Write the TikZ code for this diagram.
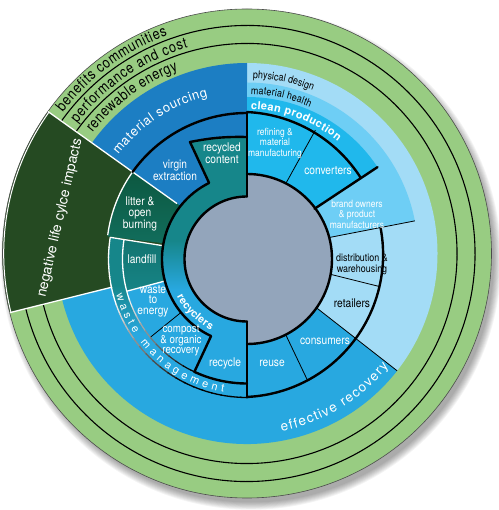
\documentclass[tikz,border=0pt]{standalone}
\usepackage{fontspec}
\setmainfont{TeX Gyre Heros}
\newfontfamily\condf{TeX Gyre Heros}[FakeStretch=0.85]
\usetikzlibrary{decorations.text}
\definecolor{grn}{RGB}{152,204,130}
\definecolor{dkg}{RGB}{37,74,34}
\definecolor{msb}{RGB}{28,126,195}
\definecolor{erb}{RGB}{40,168,224}
\definecolor{cyn}{RGB}{32,184,236}
\definecolor{mhb}{RGB}{110,206,245}
\definecolor{pdb}{RGB}{163,220,246}
\definecolor{tel}{RGB}{22,134,138}
\definecolor{gry}{RGB}{147,165,187}
\definecolor{lita}{RGB}{12,88,64}
\definecolor{litb}{RGB}{18,112,96}
\definecolor{lfa}{RGB}{18,116,112}
\definecolor{lfb}{RGB}{22,132,134}
\pgfdeclareverticalshading{ringshade}{100bp}{color(0bp)=(erb); color(44bp)=(erb); color(54bp)=(tel); color(100bp)=(tel)}
\pgfdeclareverticalshading{bandshade}{100bp}{color(0bp)=(erb); color(45bp)=(erb); color(60bp)=(tel); color(100bp)=(tel)}
\newcommand\fsz[1]{\fontsize{#1}{#1}\selectfont}
\begin{document}
\begin{tikzpicture}[x=1pt,y=1pt,
  thk/.style={line width=2.4pt, line cap=round, line join=round},
  thn/.style={line width=0.8pt},
  wl/.style={white, line width=1.3pt},
  lbl/.style={font=\condf\fontsize{12}{10.5}\selectfont, text=white, align=center, inner sep=0pt},
  sml/.style={font=\condf\fontsize{10}{10.5}\selectfont, text=white, align=center, inner sep=0pt},
  neg/.style={font=\fontsize{14}{14}\selectfont, text=white, inner sep=0pt, rotate=77}]
\useasboundingbox (-247,-256.5) rectangle (251,253.5);
% shadow
\foreach \k in {0,...,8} \fill[black, opacity=0.045] (4,-6) circle ({243+\k*0.9});
% outer rings and sectors
\fill[grn] (0,0) circle (244.5);
\fill[dkg] (0,0) -- (144.5:244.5) arc[start angle=144.5, end angle=194, radius=244.5] -- cycle;
\fill[pdb] (0,0) -- (-38:190.5) arc[start angle=-38, end angle=90, radius=190.5] -- cycle;
\fill[msb] (0,0) -- (90:190.5) arc[start angle=90, end angle=144.5, radius=190.5] -- cycle;
\fill[erb] (0,0) -- (194:190.5) arc[start angle=194, end angle=322, radius=190.5] -- cycle;
\fill[mhb] (0,0) -- (11:171) arc[start angle=11, end angle=90, radius=171] -- cycle;
\fill[cyn] (0,0) -- (33.5:156.5) arc[start angle=33.5, end angle=90, radius=156.5] -- cycle;
\shade[top color=lita, bottom color=litb] (0,0) -- (144.5:140.5) arc[start angle=144.5, end angle=173, radius=140.5] -- cycle;
\begin{scope}[shift={(0,-5.5)}]
  \coordinate (Oi) at (0,0);
  \coordinate (rcB) at (116.5:85);
  \coordinate (rcp2) at (245:124.5);
  \coordinate (gB) at (270:62.5);
  \coordinate (gT) at (90:62.5);
  \coordinate (gTR) at (90:85);
  \coordinate (bandB) at (270:138.5);
  \shade[top color=lfa, bottom color=lfb] (0,0) -- (171:124.5) arc[start angle=171, end angle=195, radius=124.5] -- cycle;
  \shade[shading=bandshade] (171:138.5) arc[start angle=171, end angle=270, radius=138.5] -- (270:124.5) arc[start angle=270, end angle=171, radius=124.5] -- cycle;
  \draw[thn] (219:85) -- (219:124.5);
\end{scope}
% thin radial lines
\draw[thn] (61:75) -- (61:141);
\draw[thn] (11:75) -- (11:171);
\draw[thn] (-14:75) -- (-14:137);
\draw[thn] (-38:75) -- (-38:190.5);
\draw[thn] (-64.5:75) -- (-64.5:140);
% recyclers ring, recycled content, recycle
\coordinate (rcT) at (0,116.5);
\coordinate (rcL) at (-57,111.5);
\shade[shading=ringshade] (rcT) to[bend right=6] (rcL) -- (rcB) arc[start angle=116.5, end angle=245, radius=85] -- (rcp2) arc[start angle=245, end angle=270, radius=124.5] -- (gB) arc[start angle=270, end angle=90, radius=62.5] -- cycle;
\fill[gry] (gTR) arc[start angle=90, end angle=-90, radius=85] -- (gB) arc[start angle=270, end angle=90, radius=62.5] -- cycle;
% green ring lines
\draw[line width=1.1pt] (194:228) arc[start angle=194, end angle=504.5, radius=228];
\draw[line width=1.1pt] (194:210) arc[start angle=194, end angle=504.5, radius=210];
\draw[line width=0.6pt, black!70] (0,0) circle (244.5);
\draw[white, line width=1pt] (144.5:243.3) arc[start angle=144.5, end angle=194, radius=243.3];
% white lines
\draw[wl] (144.5:244.5) -- (144.5:86);
\draw[wl] (144.5:140.5) arc[start angle=144.5, end angle=172.5, radius=140.5];
\draw[wl] (194:139) -- (194:244.5);
\begin{scope}[shift={(0,-5.5)}]
  \draw[wl] (171:85) -- (171:138.5);
  \draw[wl] (195:85) -- (195:124.5);
  \draw[wl] (171:124.5) arc[start angle=171, end angle=195, radius=124.5];
  \foreach \a in {171,175,...,267} {
    \pgfmathsetmacro\p{max(0,min(100,100-(\a-195)*2.2))}
    \draw[line width=1.3pt, white!\p!black] (\a:138.5) arc[start angle=\a, end angle={min(\a+4.5,270)}, radius=138.5];
  }
  \foreach \a in {195,199,...,243} {
    \pgfmathsetmacro\p{max(0,min(100,100-(\a-195)*2.2))}
    \draw[line width=1.2pt, white!\p!black] (\a:124.5) arc[start angle=\a, end angle={min(\a+4.5,245)}, radius=124.5];
  }
\end{scope}
% thick outlines
\draw[thk] (rcT) to[bend right=6] (rcL) -- (rcB) arc[start angle=116.5, end angle=245, radius=85] -- (rcp2) arc[start angle=245, end angle=270, radius=124.5];
\draw[thk] (gTR) arc[start angle=90, end angle=-90, radius=85];
\draw[thk] (gB) arc[start angle=270, end angle=90, radius=62.5];
\draw[thk] (0,140.5) -- (gT);
\draw[thk] (gB) -- (bandB);
\draw[thk] (90:140.5) arc[start angle=90, end angle=144.5, radius=140.5];
\begin{scope}[shift={(-6.5,-1)}]
  \draw[thk] (87.4:142.6) arc[start angle=87.4, end angle=32.4, radius=142.6];
  \draw[thk] (10.9:142.6) arc[start angle=10.9, end angle=-87.4, radius=142.6];
\end{scope}
\draw[thk] (33.5:81) -- (33.5:156.5);
% arc texts
\path[decorate, decoration={text along path, text align={fit to path}, text={|\condf\fsz{15}|benefits communities}}] (142.5:232) arc[start angle=142.5, end angle=110, radius=232];
\path[decorate, decoration={text along path, text align={fit to path}, text={|\condf\fsz{15}|performance and cost}}] (142.5:214) arc[start angle=142.5, end angle=106, radius=214];
\path[decorate, decoration={text along path, text align={fit to path}, text={|\condf\fsz{15}|renewable energy}}] (142:196) arc[start angle=142, end angle=110.5, radius=196];
\path[decorate, decoration={text along path, text align={fit to path}, text color=white, text={|\fsz{13}|material sourcing}}] (142.5:162) arc[start angle=142.5, end angle=104, radius=162];
\path[decorate, decoration={text along path, text align={fit to path}, text color=white, text={|\bfseries\fsz{11}|clean production}}] (88.5:144.5) arc[start angle=88.5, end angle=51, radius=144.5];
\path[decorate, decoration={text along path, text align={fit to path}, text={|\condf\fsz{10.5}|material health}}] (88.6:159.5) arc[start angle=88.6, end angle=66.7, radius=159.5];
\path[decorate, decoration={text along path, text align={fit to path}, text={|\condf\fsz{10.5}|physical design}}] (88.1:175.5) arc[start angle=88.1, end angle=68, radius=175.5];
\path[decorate, decoration={text along path, text align={fit to path}, text color=white, text={|\fsz{13.5}|effective recovery}}] (-79:181) arc[start angle=-79, end angle=-38.5, radius=181];
\begin{scope}[shift={(0,-5.5)}]
  \path[decorate, decoration={text along path, text align={fit to path}, text color=white, text={|\fsz{11}|waste management}}] (195:135.5) arc[start angle=195, end angle=260, radius=135.5];
  \path[decorate, decoration={text along path, text align={fit to path}, text color=white, text={|\bfseries\fsz{10.5}|recyclers}}] (208:79.5) arc[start angle=208, end angle=243, radius=79.5];
\end{scope}
% labels
\node[lbl] (rc) at (-25,100.5) {recycled\\content};
\node[lbl] (ve) at (-72,83.5) {virgin\\extraction};
\node[lbl] (lob) at (-107,39.5) {litter \&\\open\\burning};
\node[lbl] (lf) at (-105,-5.5) {landfill};
\node[lbl] (wte) at (-94,-47.5) {waste\\to\\energy};
\node[lbl, font=\condf\fontsize{11.5}{9.5}\selectfont] (cor) at (-66,-86.5) {compost\\\& organic\\recovery};
\node[lbl] (rcy) at (-22,-109.5) {recycle};
\node[lbl] (reu) at (25,-109.5) {reuse};
\node[lbl] (con) at (78,-87.5) {consumers};
\node[lbl, text=black] (ret) at (105,-49.5) {retailers};
\node[sml, text=black, font=\condf\fontsize{10.5}{11}\selectfont] (dw) at (115,-10.5) {distribution \&\\warehousing};
\node[sml] (bo) at (110,39.5) {brand owners\\\& product\\manufacturers};
\node[lbl] (cv) at (81,82.5) {converters};
\node[sml] (rmm) at (28,110.5) {refining \&\\material\\manufacturing};
\node[neg] (nlc) at (-187,35.5) {negative life cylce impacts};
\end{tikzpicture}
\end{document}
